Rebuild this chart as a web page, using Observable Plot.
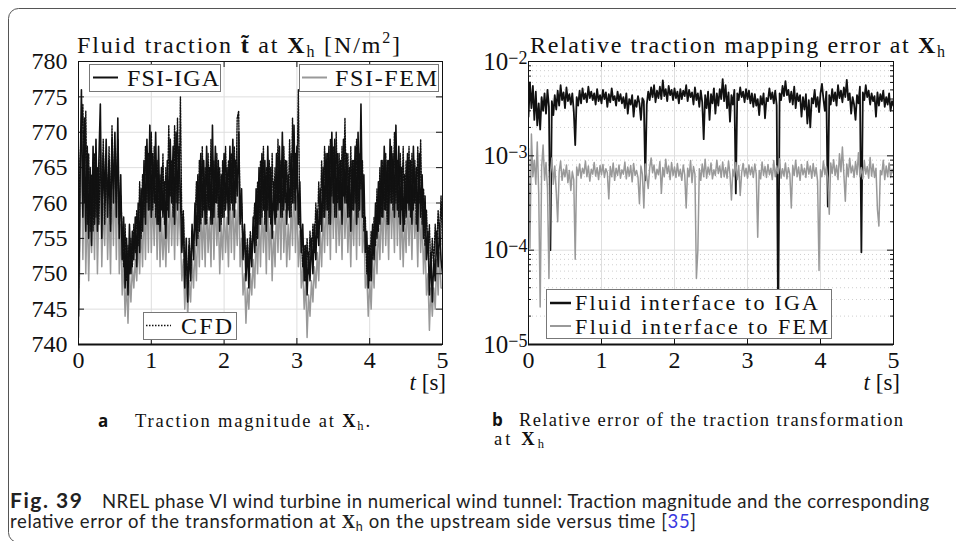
<!DOCTYPE html>
<html><head><meta charset="utf-8">
<script src="https://cdn.jsdelivr.net/npm/d3@7"></script>
<script src="https://cdn.jsdelivr.net/npm/@observablehq/plot@0.6"></script>
<style>
html,body{margin:0;padding:0;background:#fff;}
body{width:956px;height:541px;overflow:hidden;position:relative;font-family:"Liberation Serif",serif;}
.abs{position:absolute;}
#overlay{position:absolute;left:0;top:0;pointer-events:none;}
</style></head><body>
<div id="left" class="abs" style="left:0;top:0"></div>
<div id="right" class="abs" style="left:460px;top:0"></div>
<svg id="overlay" width="956" height="541" xmlns="http://www.w3.org/2000/svg" font-family="Liberation Serif" fill="#111">
  <rect x="8.5" y="8.5" width="990" height="534" rx="10" fill="none" stroke="#555" stroke-width="1"/>
  <!-- titles -->
  <text x="77" y="53" font-size="24" textLength="323" lengthAdjust="spacing">Fluid traction <tspan font-weight="bold">t&#x303;</tspan> at <tspan font-weight="bold">X</tspan><tspan font-size="16" dy="4">h</tspan><tspan dy="-4"> [N/m</tspan><tspan font-size="16" dy="-10">2</tspan><tspan dy="10">]</tspan></text>
  <text x="530" y="53" font-size="24" textLength="415" lengthAdjust="spacing">Relative traction mapping error at <tspan font-weight="bold">X</tspan><tspan font-size="16" dy="4">h</tspan></text>
  <!-- left legends -->
  <rect x="89.5" y="64.5" width="131" height="27" fill="#fff" stroke="#777"/>
  <line x1="93" x2="118" y1="77.5" y2="77.5" stroke="#111" stroke-width="2"/>
  <text x="127" y="85.5" font-size="24" textLength="92" lengthAdjust="spacing">FSI-IGA</text>
  <rect x="299.5" y="64.5" width="139" height="27" fill="#fff" stroke="#777"/>
  <line x1="302" x2="327" y1="77.5" y2="77.5" stroke="#999" stroke-width="2"/>
  <text x="335" y="85.5" font-size="24" textLength="102" lengthAdjust="spacing">FSI-FEM</text>
  <rect x="143.5" y="312.5" width="93" height="27" fill="#fff" stroke="#777"/>
  <line x1="146" x2="171" y1="325.5" y2="325.5" stroke="#111" stroke-width="1.5" stroke-dasharray="1.5,1.5"/>
  <text x="181" y="333.5" font-size="24" textLength="51" lengthAdjust="spacing">CFD</text>
  <!-- right legend -->
  <rect x="546.5" y="289.5" width="285" height="49" fill="#fff" stroke="#777"/>
  <line x1="550" x2="571" y1="303" y2="303" stroke="#111" stroke-width="2.5"/>
  <line x1="550" x2="571" y1="326" y2="326" stroke="#999" stroke-width="2"/>
  <text x="575" y="310" font-size="22" textLength="243" lengthAdjust="spacing">Fluid interface to IGA</text>
  <text x="575" y="333.5" font-size="22" textLength="253" lengthAdjust="spacing">Fluid interface to FEM</text>
  <!-- axis labels -->
  <text x="446" y="390" font-size="23" text-anchor="end"><tspan font-style="italic">t</tspan> [s]</text>
  <text x="900" y="390" font-size="23" text-anchor="end"><tspan font-style="italic">t</tspan> [s]</text>
  <!-- sub captions -->
  <text x="98" y="427" font-family="Open Sans" font-weight="bold" font-size="17">a</text>
  <text x="135" y="427" font-size="18.5" textLength="235" lengthAdjust="spacing">Traction magnitude at <tspan font-weight="bold">X</tspan><tspan font-size="12.5" dy="3">h</tspan><tspan dy="-3">.</tspan></text>
  <text x="492" y="426" font-family="Open Sans" font-weight="bold" font-size="17">b</text>
  <text x="519" y="426" font-size="18.5" textLength="384" lengthAdjust="spacing">Relative error of the traction transformation</text>
  <text x="494" y="445" font-size="18.5" textLength="50" lengthAdjust="spacing">at <tspan font-weight="bold">X</tspan><tspan font-size="12.5" dy="3">h</tspan></text>
  <!-- figure caption -->
  <text x="10" y="508" font-family="Lato" font-weight="bold" font-size="21" fill="#222" textLength="72" lengthAdjust="spacing">Fig. 39</text>
  <text x="102" y="508" font-family="Lato" font-size="18.5" fill="#222" textLength="827" lengthAdjust="spacing">NREL phase VI wind turbine in numerical wind tunnel: Traction magnitude and the corresponding</text>
  <text x="10" y="528" font-family="Lato" font-size="18.5" fill="#222" textLength="686" lengthAdjust="spacing">relative error of the transformation at <tspan font-family="Liberation Serif" font-weight="bold">X</tspan><tspan font-size="12.5" dy="3">h</tspan><tspan dy="-3"> on the upstream side versus time [</tspan><tspan fill="#3a3ae0">35</tspan>]</text>
</svg>
<script>
// ---- sampling times [s] ----
const tStepHundredths = 2;
const time = d3.range(0, 251).map(i => (i * tStepHundredths) / 100);

// ---- left panel: fluid traction magnitude [N/m^2] ----
const tractionIGA = [
744,762,776,758,772, 756,768,755,765,754, 768,757,769,756,766, 774,755,767,760,769,
758,766,756,769,760, 770,758,772,755,764, 752,758,748,755,747, 757,750,756,752,758,
751,760,753,762,756, 766,757,769,759,771, 758,767,760,770,757, 768,756,765,758,763,
755,766,758,769,760, 768,757,770,759,768, 761,753,758,748,755, 746,754,749,757,752,
760,754,764,756,767, 758,766,757,768,759, 765,757,771,758,768, 760,766,756,764,758,
767,759,765,757,768, 760,769,758,766,761, 770,757,762,752,757, 749,754,748,755,751,
758,753,762,755,765, 757,767,759,766,756, 768,758,765,755,763, 757,767,759,768,758,
770,759,766,757,764, 758,767,760,771,759, 768,757,763,753,757, 749,754,747,753,749,
755,750,757,752,759, 754,762,756,765,758, 767,759,768,757,770, 760,769,758,767,759,
766,757,769,760,767, 758,765,756,766,759, 768,757,770,759,774, 758,764,753,756,748,
754,749,757,752,760, 755,763,757,766,758, 768,759,766,757,769, 760,767,758,771,759,
768,757,765,756,764, 758,767,759,766,757, 768,760,765,756,767, 758,764,755,761,752,
756,747,753,746,752, 749,756,751,757,752, 750];

const tractionFEM = [
741,755,772,752,766, 750,760,749,758,753, 762,752,764,750,760, 766,751,760,754,763,
752,760,750,763,754, 764,752,766,750,757, 747,752,744,749,743, 750,746,751,748,752,
749,755,750,757,751, 760,752,762,753,764, 753,761,754,763,752, 762,751,758,752,757,
751,759,753,762,754, 761,752,763,754,760, 755,749,752,745,750, 744,749,746,752,748,
754,749,758,751,760, 752,759,751,761,753, 758,751,764,752,761, 754,759,750,757,752,
760,753,758,751,761, 753,762,752,759,754, 763,751,755,747,750, 743,748,745,750,747,
752,748,756,750,758, 751,760,753,759,750, 761,752,758,749,756, 751,760,753,761,752,
763,753,759,751,757, 752,760,754,764,753, 761,751,756,748,751, 745,749,741,747,744,
749,746,751,748,753, 749,756,751,759,753, 761,754,762,752,764, 755,763,753,761,754,
760,752,763,755,761, 753,759,751,760,754, 762,752,764,754,767, 753,758,748,750,744,
749,745,752,748,755, 750,757,752,760,753, 762,754,760,752,763, 755,761,753,764,754,
762,752,759,751,758, 753,761,754,760,752, 762,755,759,751,761, 753,758,750,755,747,
750,742,748,744,748, 745,752,747,753,748, 748];

const tractionCFD = [
748,766,770,774,760, 773,757,767,756,764, 756,767,758,765,757, 768,759,769,757,765,
760,768,757,771,762, 767,760,769,757,761, 756,751,757,749,754, 750,755,751,757,753,
759,754,763,755,764, 758,768,760,767,759, 770,759,768,758,766, 757,764,759,767,757,
765,759,771,761,766, 758,771,760,772,760, 775,756,759,750,753, 748,755,750,756,754,
757,763,755,766,757, 768,759,765,757,767, 759,769,757,766,760, 767,758,765,757,766,
758,768,760,766,759, 767,759,768,760,772, 773,758,760,754,756, 751,755,750,756,753,
756,760,754,763,757, 766,758,768,757,765, 759,766,757,767,759, 765,758,769,760,766,
758,768,760,766,759, 769,758,772,760,767, 762,776,757,755,751, 754,749,755,750,756,
752,757,753,760,755, 763,757,766,758,768, 759,767,757,769,761, 768,758,770,760,767,
759,768,761,772,760, 767,758,768,759,766, 760,769,758,767,762, 766,756,758,750,754,
749,756,752,758,754, 762,756,765,758,766, 759,767,757,766,760, 768,759,770,760,766,
758,767,759,768,757, 766,760,768,758,767, 759,766,757,768,760, 769,757,762,754,759,
753,757,750,755,751, 757,753,759,755,761, 754];

// ---- right panel: relative traction mapping error ----
// Fluid interface to IGA, values in units of 1e-3
const errorIGA_e3 = [
2.6,6.0,3.2,5.5,2.4, 4.8,2.1,3.6,1.9,4.2, 3.0,4.6,2.8,5.0,3.3, 0.10,3.8,2.7,4.4,3.1,
4.9,3.4,5.6,3.9,4.7, 3.2,5.3,3.8,4.5,3.5, 4.6,3.0,1.3,4.2,3.4, 4.9,3.6,5.2,4.0,4.6,
3.7,5.4,4.1,4.8,3.9, 4.6,3.5,5.1,3.8,4.4, 3.6,5.0,4.0,4.7,3.3, 4.5,3.7,5.2,3.9,4.3,
3.4,4.8,3.8,4.5,3.6, 4.2,3.2,4.6,2.8,4.0, 3.5,4.4,2.6,3.9,3.3, 4.3,3.6,2.4,4.1,3.8,
0.55,3.5,4.8,3.9,5.3, 4.2,5.6,3.7,4.9,4.1, 5.4,4.0,6.3,4.3,5.1, 3.8,5.5,4.4,5.0,3.9,
5.2,4.1,4.8,3.6,5.1, 4.0,4.9,4.3,5.6,3.8, 5.0,4.2,4.7,3.5,5.3, 3.9,4.6,3.3,4.9,3.7,
1.5,4.4,3.2,4.8,2.4, 4.5,3.6,5.2,2.8,4.6, 3.4,5.1,4.0,6.5,3.8, 5.6,3.2,4.7,2.3,4.4,
3.5,5.0,0.4,4.6,3.9, 5.3,4.2,4.8,3.7,5.1, 4.0,4.9,3.6,4.6,3.3, 4.5,3.4,4.0,2.7,4.3,
3.5,4.6,2.5,4.1,3.8, 5.2,4.0,4.7,3.6,4.9, 3.4,0.012,4.6,3.9,5.5, 4.3,6.2,4.4,5.0,3.7,
4.8,3.5,5.4,3.2,4.6, 3.8,4.4,2.6,4.2,3.1, 4.5,2.2,3.9,2.0,4.1, 3.6,5.0,3.3,4.2,2.9,
4.6,5.8,4.0,3.0,4.8, 0.29,4.4,3.5,5.1,3.8, 4.7,3.4,5.6,4.1,4.9, 3.7,5.3,4.2,6.4,3.9,
4.6,2.8,4.2,3.5,2.4, 4.4,3.6,5.4,0.095,4.7, 3.9,5.6,4.2,4.9,3.5, 4.6,3.8,4.3,2.6,4.7,
3.4,4.5,3.8,4.9,3.3, 4.2,3.5,4.6,3.0,3.8, 3.4];

// Fluid interface to FEM, values in units of 1e-4
const errorFEM_e4 = [
12,1.05,17,6.0,9.0, 5.0,14,4.0,0.25,7.5, 13,5.5,8.5,4.5,0.5, 6.5,9.5,5.0,7.8,4.2,
2.0,6.8,8.8,5.5,7.2, 6.0,8.0,5.2,7.0,4.3, 6.8,5.6,0.8,7.6,6.2, 8.2,5.8,7.4,6.5,8.8,
6.0,7.8,5.4,7.2,6.4, 8.5,6.1,7.5,5.6,7.9, 6.3,8.1,5.9,7.3,6.6, 3.5,7.7,6.0,8.4,5.5,
7.4,6.2,8.0,5.8,7.1, 6.4,8.6,5.7,7.6,6.1, 7.9,5.3,8.3,6.2,7.0, 5.9,3.1,7.8,6.4,2.8,
8.2,6.0,4.5,7.4,9.5, 6.6,8.0,5.7,7.2,6.3, 8.7,4.0,7.5,6.0,9.2, 6.5,7.8,5.6,8.5,6.2,
7.6,5.9,8.3,6.1,7.2, 5.5,8.0,6.3,2.8,7.4, 6.0,8.9,5.2,7.7,6.4, 0.5,1.0,7.3,5.5,8.2,
6.0,9.2,5.8,7.6,6.3, 8.4,5.7,7.1,6.2,9.0, 6.5,7.8,5.9,8.6,6.0, 7.5,5.8,8.8,6.4,3.4,
7.2,6.0,8.5,5.6,7.9, 3.8,6.6,8.3,6.1,7.4, 5.8,8.0,6.3,7.6,5.9, 8.2,6.4,1.37,7.0,5.7,
8.6,6.2,7.7,5.9,8.1, 6.3,7.4,5.6,8.9,6.0, 7.8,6.5,9.3,5.8,7.3, 6.1,8.4,5.7,7.5,6.4,
2.8,7.9,6.2,9.0,6.0, 7.6,5.5,8.1,6.3,7.4, 5.9,8.7,6.4,7.8,5.8, 8.3,6.1,7.5,5.4,0.61,
7.1,6.0,8.8,6.3,7.7, 5.8,2.4,8.4,6.5,9.1, 6.2,7.9,5.6,10.5,6.8, 12.4,6.4,3.3,8.2,6.0,
9.4,6.6,7.8,5.9,8.7, 6.3,10.8,6.0,7.5,5.7, 8.9,6.4,7.7,5.8,9.6, 6.1,8.2,5.9,7.4,2.7,
1.8,7.0,6.3,9.0,5.6, 7.8,6.0,8.4,5.9,7.2, 6.5];

// ---- tick values ----
const xTicks = [0, 1, 2, 3, 4, 5];
const leftYTicks = [740, 745, 750, 755, 760, 765, 770, 775, 780];
const rightYDecades = [1e-5, 1e-4, 1e-3, 1e-2];
const rightYMinor = [1e-5, 1e-4, 1e-3].flatMap(d => [2,3,4,5,6,7,8,9].map(k => k * d));

const leftRows = time.map((t, i) => ({t, iga: tractionIGA[i], fem: tractionFEM[i], cfd: tractionCFD[i]}));
const rightRows = time.map((t, i) => ({t, iga: errorIGA_e3[i] * 1e-3, fem: errorFEM_e4[i] * 1e-4}));

const baseStyle = {fontFamily: "'Liberation Serif', serif", fontSize: "24px", color: "#111", background: "transparent", overflow: "visible"};
const gridColor = "#dedede";

// left plot
const LW = 460, LH = 400, LM = {l: 78, r: 18, t: 61, b: 56};
const lfw = LW - LM.l - LM.r, lfh = LH - LM.t - LM.b;
const leftPlot = Plot.plot({
  width: LW, height: LH,
  marginLeft: LM.l, marginRight: LM.r, marginTop: LM.t, marginBottom: LM.b,
  x: {domain: [0, 5]},
  y: {domain: [740, 780]},
  style: baseStyle,
  marks: [
    Plot.gridX(xTicks, {stroke: gridColor, strokeOpacity: 1}),
    Plot.gridY(leftYTicks, {stroke: gridColor, strokeOpacity: 1}),
    Plot.line(leftRows, {x: "t", y: "fem", stroke: "#999", strokeWidth: 1.5, clip: true}),
    Plot.line(leftRows, {x: "t", y: "iga", stroke: "#111", strokeWidth: 1.6, clip: true}),
    Plot.line(leftRows, {x: "t", y: "cfd", stroke: "#111", strokeWidth: 1.4, strokeDasharray: "1.5,1.3", clip: true}),
    Plot.tickX(xTicks, {x: d => d, insetTop: lfh - 6, stroke: "#111"}),
    Plot.tickX(xTicks, {x: d => d, insetBottom: lfh - 6, stroke: "#111"}),
    Plot.tickY(leftYTicks, {y: d => d, insetRight: lfw - 6, stroke: "#111"}),
    Plot.tickY(leftYTicks, {y: d => d, insetLeft: lfw - 6, stroke: "#111"}),
    Plot.frame({stroke: "#111", strokeWidth: 1}),
    Plot.ruleY([740], {stroke: "#111", strokeWidth: 2}),
    Plot.axisX(xTicks, {tickSize: 0, tickPadding: 6, label: null}),
    Plot.axisY(leftYTicks, {tickSize: 0, tickPadding: 11, label: null})
  ]
});
document.getElementById("left").append(leftPlot);

// right plot
const RW = 496, RH = 400, RM = {l: 68, r: 63, t: 61, b: 56};
const rfw = RW - RM.l - RM.r, rfh = RH - RM.t - RM.b;
const rightPlot = Plot.plot({
  width: RW, height: RH,
  marginLeft: RM.l, marginRight: RM.r, marginTop: RM.t, marginBottom: RM.b,
  x: {domain: [0, 5]},
  y: {type: "log", domain: [1e-5, 1e-2]},
  style: baseStyle,
  marks: [
    Plot.gridY(rightYMinor, {stroke: "#cfcfcf", strokeOpacity: 1, strokeDasharray: "1,3"}),
    Plot.gridX(xTicks, {stroke: gridColor, strokeOpacity: 1}),
    Plot.gridY(rightYDecades, {stroke: gridColor, strokeOpacity: 1}),
    Plot.line(rightRows, {x: "t", y: "iga", stroke: "#111", strokeWidth: 1.8, clip: true}),
    Plot.line(rightRows, {x: "t", y: "fem", stroke: "#999", strokeWidth: 1.5, clip: true}),
    Plot.tickX(xTicks, {x: d => d, insetTop: rfh - 6, stroke: "#111"}),
    Plot.tickX(xTicks, {x: d => d, insetBottom: rfh - 6, stroke: "#111"}),
    Plot.tickY(rightYDecades, {y: d => d, insetRight: rfw - 6, stroke: "#111"}),
    Plot.tickY(rightYDecades, {y: d => d, insetLeft: rfw - 6, stroke: "#111"}),
    Plot.tickY(rightYMinor, {y: d => d, insetRight: rfw - 3, stroke: "#111"}),
    Plot.tickY(rightYMinor, {y: d => d, insetLeft: rfw - 3, stroke: "#111"}),
    Plot.frame({stroke: "#111", strokeWidth: 1}),
    Plot.ruleY([1e-5], {stroke: "#111", strokeWidth: 2}),
    Plot.axisX(xTicks, {tickSize: 0, tickPadding: 6, label: null}),
    Plot.axisY(rightYDecades, {tickSize: 0, tickPadding: 1, label: null, fontSize: 25, tickFormat: d => "\u2212" + Math.round(-Math.log10(d))})
  ]
});
document.getElementById("right").append(rightPlot);

// superscript exponents on the log axis labels
const NS = "http://www.w3.org/2000/svg";
rightPlot.querySelectorAll('g[aria-label="y-axis tick label"] text').forEach(el => {
  const exp = el.textContent;
  el.textContent = "";
  const base = document.createElementNS(NS, "tspan");
  base.textContent = "10";
  const sup = document.createElementNS(NS, "tspan");
  sup.setAttribute("dy", "-0.33em");
  sup.setAttribute("font-size", "0.72em");
  sup.textContent = exp;
  el.append(base, sup);
});
</script>
</body></html>
